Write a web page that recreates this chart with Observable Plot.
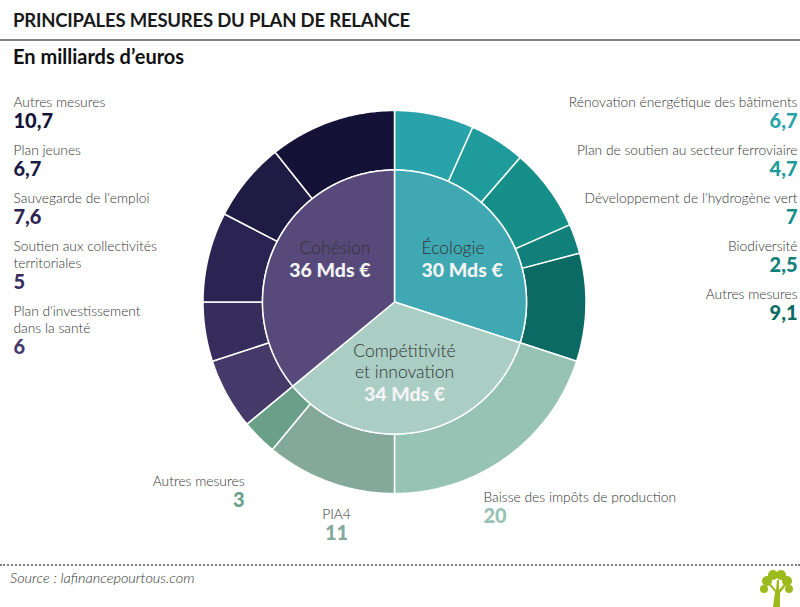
<!DOCTYPE html>
<html><head><meta charset="utf-8">
<script src="https://cdn.jsdelivr.net/npm/d3@7"></script>
<script src="https://cdn.jsdelivr.net/npm/@observablehq/plot@0.6"></script>
<style>
body{margin:0;width:800px;height:607px;overflow:hidden;background:#fff;font-family:Lato,"Open Sans",sans-serif;}
#head{position:relative;height:80px;}
#title{position:absolute;left:13px;top:9px;font-size:18.5px;font-weight:700;color:#1a1a1a;white-space:nowrap;letter-spacing:-0.2px}
#rule{position:absolute;left:0;top:39px;width:800px;height:2px;background:#808080}
#sub{position:absolute;left:13px;top:44px;font-size:20px;font-weight:700;color:#111;white-space:nowrap;}
#chart{height:480px}
#foot{position:relative;height:47px}
#dots{position:absolute;left:0;top:4px;width:800px;border-top:2px dotted #808080}
#src{position:absolute;left:10px;top:9px;font-size:14.5px;font-style:italic;font-weight:300;color:#333}
#logo{position:absolute;left:758px;top:10px}
</style></head>
<body>
<div id="head"><div id="title">PRINCIPALES MESURES DU PLAN DE RELANCE</div><div id="rule"></div><div id="sub">En milliards d’euros</div></div>
<div id="chart"></div>
<div id="foot"><div id="dots"></div><div id="src">Source : lafinancepourtous.com</div>
<svg id="logo" width="36" height="37" viewBox="0 0 36 37">
<g fill="#9cba1b">
<path d="M15 37 L17 22 L10 14 L12 13 L18 20 L19 10 L21 10 L21 20 L27 13 L29 14 L22 23 L22 37 Z"/>
<circle cx="9" cy="11" r="5"/><circle cx="15" cy="5" r="5"/><circle cx="23" cy="5" r="5"/><circle cx="29" cy="11" r="5"/><circle cx="6" cy="19" r="4"/><circle cx="31" cy="19" r="4"/>
</g></svg>
</div>
<script>
// ---- data ----
const categories = ["Écologie", "Compétitivité\net innovation", "Cohésion"];
const categoryTotals = [30, 34, 36];
const measureNames = [
  "Rénovation énergétique des bâtiments",
  "Plan de soutien au secteur ferroviaire",
  "Développement de l'hydrogène vert",
  "Biodiversité",
  "Autres mesures",
  "Baisse des impôts de production",
  "PIA4",
  "Autres mesures",
  "Plan d'investissement\ndans la santé",
  "Soutien aux collectivités\nterritoriales",
  "Sauvegarde de l'emploi",
  "Plan jeunes",
  "Autres mesures"
];
const measureValues = [6.7, 4.7, 7, 2.5, 9.1, 20, 11, 3, 6, 5, 7.6, 6.7, 10.7];
const measureCategory = [0, 0, 0, 0, 0, 1, 1, 1, 2, 2, 2, 2, 2];

// ---- styles ----
const categoryColors = ["#3fa8b3", "#aacdc4", "#574a7b"];
const measureColors = ["#29a3aa", "#1e9b9a", "#168f89", "#11807a", "#0b6b64",
  "#96c3b3", "#84a99b", "#6a9f8a",
  "#463a6b", "#372d5c", "#2b2453", "#1e1b45", "#141236"];
const CX = 394, CY = 301.5, R_IN = 132, R_OUT = 191.5;

const total = d3.sum(categoryTotals);
function angles(values) {
  let acc = 0;
  return values.map(v => { const a0 = acc / total * 2 * Math.PI; acc += v; return [a0, acc / total * 2 * Math.PI]; });
}
function poly(key, color, a0, a1, r0, r1) {
  const pts = [];
  const n = Math.max(2, Math.ceil((a1 - a0) / 0.01));
  for (let i = 0; i <= n; i++) { const a = a0 + (a1 - a0) * i / n; pts.push({key, color, x: CX + r1 * Math.sin(a), y: CY - r1 * Math.cos(a)}); }
  if (r0 === 0) pts.push({key, color, x: CX, y: CY});
  else for (let i = n; i >= 0; i--) { const a = a0 + (a1 - a0) * i / n; pts.push({key, color, x: CX + r0 * Math.sin(a), y: CY - r0 * Math.cos(a)}); }
  pts.push({...pts[0]});
  return pts;
}
const ringPts = angles(measureValues).flatMap(([a0, a1], i) => poly("m" + i, measureColors[i], a0, a1, R_IN, R_OUT));
const piePts = angles(categoryTotals).flatMap(([a0, a1], i) => poly("c" + i, categoryColors[i], a0, a1, 0, R_IN));

const fmt = v => String(v).replace(".", ",");

// ---- label layout ----
const nameRows = [], valueRows = [];
function column(idx, x, anchor) {
  let y = 102;
  idx.forEach(i => {
    measureNames[i].split("\n").forEach((line, k) => { if (k) y += 17; nameRows.push({x, y, text: line, anchor}); });
    y += 19;
    valueRows.push({x, y, text: fmt(measureValues[i]), anchor, color: measureColors[i]});
    y += 29;
  });
}
const idxOf = c => measureCategory.map((c2, i) => c2 === c ? i : -1).filter(i => i >= 0);
column(idxOf(0), 797, "end");
column(idxOf(2).reverse(), 13, "start");
const bottomSpots = [{x: 483, y: 497, anchor: "start"}, {x: 336, y: 514, anchor: "middle"}, {x: 244, y: 481, anchor: "end"}];
idxOf(1).forEach((i, k) => {
  const s = bottomSpots[k];
  nameRows.push({x: s.x, y: s.y, text: measureNames[i], anchor: s.anchor});
  valueRows.push({x: s.x, y: s.y + 19, text: fmt(measureValues[i]), anchor: s.anchor, color: measureColors[i]});
});
const innerSpots = [{x: 421, y: 248, anchor: "start"}, {x: 404, y: 351, anchor: "middle"}, {x: 370, y: 248, anchor: "end"}];
const catNameRows = [], catValueRows = [];
categories.forEach((c, i) => {
  const s = innerSpots[i];
  const lines = c.split("\n");
  lines.forEach((line, k) => catNameRows.push({x: s.x, y: s.y + 21 * k, text: line, anchor: s.anchor}));
  catValueRows.push({x: s.x, y: s.y + 21 * lines.length + 1.5, text: `${categoryTotals[i]} Mds €`, anchor: s.anchor});
});

const textMarks = [];
for (const anchor of ["start", "middle", "end"]) {
  textMarks.push(Plot.text(nameRows.filter(d => d.anchor === anchor), {x: "x", y: "y", text: "text", textAnchor: anchor, fontSize: 13.8, fontWeight: 300, fill: "#333"}));
  textMarks.push(Plot.text(valueRows.filter(d => d.anchor === anchor), {x: "x", y: "y", text: "text", textAnchor: anchor, fontSize: 20, fontWeight: 900, fill: "color"}));
  textMarks.push(Plot.text(catNameRows.filter(d => d.anchor === anchor), {x: "x", y: "y", text: "text", textAnchor: anchor, fontSize: 17.5, fontWeight: 300, fill: "#333"}));
  textMarks.push(Plot.text(catValueRows.filter(d => d.anchor === anchor), {x: "x", y: "y", text: "text", textAnchor: anchor, fontSize: 19.5, fontWeight: 900, fill: "#f4f4f4", letterSpacing: "0.5px"}));
}

const chart = Plot.plot({
  width: 800, height: 480,
  margin: 0,
  x: {domain: [0, 800], range: [0, 800], axis: null},
  y: {domain: [80, 560], range: [0, 480], axis: null},
  color: {type: "identity"},
  style: {fontFamily: "Lato, 'Open Sans', sans-serif", background: "white"},
  marks: [
    Plot.line(ringPts, {x: "x", y: "y", z: "key", fill: "color", stroke: "white", strokeWidth: 1.5, strokeLinejoin: "miter"}),
    Plot.line(piePts, {x: "x", y: "y", z: "key", fill: "color", stroke: "white", strokeWidth: 1.5, strokeLinejoin: "miter"}),
    ...textMarks
  ]
});
document.getElementById("chart").append(chart);
</script>
</body></html>
